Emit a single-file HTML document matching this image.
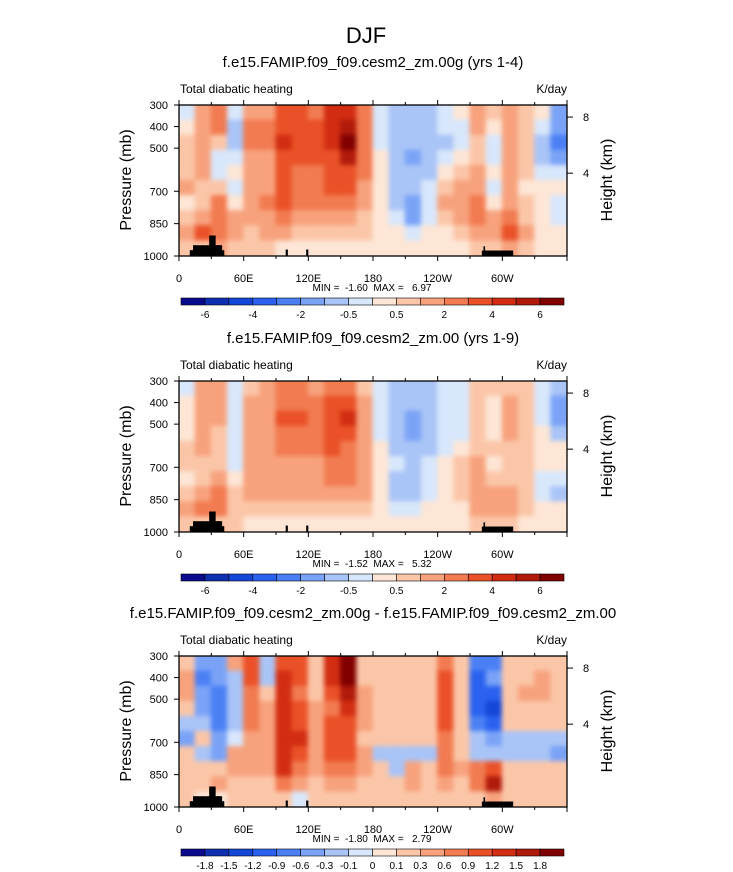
<!DOCTYPE html>
<html><head><meta charset="utf-8"><style>
body{margin:0;background:#fff;}
svg{display:block;font-family:"Liberation Sans",Arial,sans-serif;}
.bl{filter:blur(2.5px);}
</style></head><body>
<svg id="fig" width="733" height="872">
<text x="366" y="43" font-size="22" text-anchor="middle">DJF</text>
</svg>
<script>
const lonEdges=[0,15,30,45,60,75,90,105,120,135,150,165,180,195,210,225,240,255,270,285,300,315,330,345,360];
const presEdges=[300,370,440,510,580,650,720,790,860,930,1000];
const levelsA=[-6,-5,-4,-3,-2,-1,-0.5,0,0.5,1,2,3,4,5,6];
const labelsA=["-6","-4","-2","-0.5","0.5","2","4","6"];
const levelsB=[-1.8,-1.5,-1.2,-0.9,-0.6,-0.3,-0.1,0,0.1,0.3,0.6,0.9,1.2,1.5,1.8];
const labelsB=["-1.8","-1.5","-1.2","-0.9","-0.6","-0.3","-0.1","0","0.1","0.3","0.6","0.9","1.2","1.5","1.8"];
const xTickLabels=["0","60E","120E","180","120W","60W"];
const yTickLabels=[300,400,500,700,850,1000];
const heightTicks=[8,4];
const heightTickPres=[356,616];
const data1=[
[-0.3,0.3,0.6,0.8,0.8,1.5,0.3,0.8,1.5,0.8],
[1.5,1.5,1.2,1.2,1.5,0.8,0.8,1.5,3,0.8],
[2,2,0.6,-0.5,-0.5,0.8,2,2,2,1],
[-0.3,-0.7,-0.7,-0.5,0.3,-0.5,0.3,1,1,0.6],
[1.5,2,2,1.8,1.5,1.5,1.5,1,0.8,0.6],
[1.5,2,2,1.5,1.5,1.5,2,1.5,1,0.6],
[3,3.5,4.5,3.5,3,3,3,2,1,0.4],
[3,3.2,3.5,3,2.5,2.5,2.5,1.5,0.8,0.4],
[2.5,3,3,3,2.5,2.5,2.2,1.5,0.8,0.4],
[4,4.5,4.5,3.5,3,3,2.5,1.5,0.8,0.4],
[4.5,5,6.5,5,3.5,3,2.5,1.2,0.6,0.4],
[2.5,2.5,2.5,2.5,2,1.5,1.2,0.6,0.5,0.3],
[-0.3,-0.5,-0.3,0.3,0.3,0.3,0.3,0.3,0.3,0.2],
[-0.8,-0.8,-0.7,-0.8,-1,-0.8,-0.8,-0.5,0.2,0.2],
[-0.8,-1,-1,-1.3,-1,-0.8,-1.2,-1.5,-0.3,0.2],
[-0.6,-0.6,-0.8,-0.8,-0.6,-0.5,-0.5,-0.3,0.3,0.2],
[-0.3,-0.3,-0.6,-0.3,0.3,0.6,1,0.6,0.3,0.2],
[0.3,-0.3,-0.3,0.3,0.8,1.2,1.5,1,0.5,0.3],
[1.5,1,0.8,0.8,1,1.5,2,2,1,0.5],
[0.5,0.3,-0.3,-0.3,0.3,-0.3,0.3,1,1.5,0.6],
[1.2,1.5,1.5,1.5,1.2,1,1.2,2,3,1.2],
[0.6,0.8,0.8,0.6,0.5,0.3,0.5,0.8,1,0.5],
[0.3,-0.3,-0.6,-0.6,-0.3,0.3,0.3,0.3,0.3,0.3],
[-1.2,-2,-2.2,-1.2,-0.3,0.3,-0.3,-0.5,0.3,0.3]];
const data2=[
[-0.3,0.3,0.3,0.3,0.5,0.8,0.3,0.8,1.5,0.5],
[1,1.2,1.2,1.2,1,0.6,0.6,1.2,2.5,0.8],
[1.5,1.5,1.5,0.6,0.6,0.8,1.5,2,2,0.8],
[-0.4,-0.5,-0.5,-0.5,-0.3,-0.5,0.3,0.6,0.6,0.5],
[0.6,1,1.2,1.2,1.2,1.2,1.2,1,0.6,0.4],
[1.2,1.2,1.5,1.5,1.5,1.5,1.5,1.2,0.6,0.4],
[2,2.5,3,2.5,2,1.5,1.5,1,0.6,0.3],
[2.5,2.5,3,2.5,2,1.5,1.2,1,0.6,0.3],
[1.5,2,2.5,2.2,2,1.5,1.5,1,0.6,0.3],
[2.5,3,3.5,3.5,3,2,2,1.5,0.6,0.3],
[2.5,3.5,4.5,3.5,2.5,2,2,1.5,0.6,0.3],
[0.8,1.5,1.5,1.5,1.5,1.5,1.5,1,0.5,0.3],
[-0.5,-0.3,-0.3,-0.3,0.3,0.3,0.3,0.3,0.3,0.3],
[-0.8,-0.8,-0.8,-0.8,-0.6,-0.5,-0.8,-1,-0.3,0.2],
[-1,-1,-1.2,-1.2,-1,-0.8,-0.6,-0.8,-0.3,0.2],
[-0.8,-0.8,-0.8,-0.8,-0.6,-0.3,-0.3,-0.3,0.3,0.2],
[-0.5,-0.5,-0.5,-0.3,-0.3,0.3,0.3,0.3,0.3,0.2],
[-0.3,-0.3,-0.3,-0.3,0.3,0.6,0.8,0.6,0.3,0.3],
[0.8,0.8,0.8,0.6,0.8,1,1.2,1.5,1,0.5],
[0.5,0.3,0.3,0.3,0.5,0.3,0.6,1,1.2,0.5],
[0.6,1,1,1,0.8,0.8,0.8,1,1.5,0.8],
[0.5,0.6,0.5,0.5,0.5,0.5,0.5,0.5,0.6,0.4],
[-0.3,-0.3,-0.3,0.3,0.3,0.3,-0.3,-0.3,0.3,0.3],
[-0.8,-1.2,-1.2,-0.6,0.3,0.3,-0.3,-0.6,0.3,0.3]];
const data3=[
[0.2,0.3,0.4,0.2,-0.2,-0.4,0.2,0.2,0.2,0.1],
[-0.6,-0.8,-0.5,-0.4,-0.3,0.1,-0.2,0.2,0.2,0.05],
[-0.6,-0.6,-0.7,-0.8,-0.8,-0.6,-0.4,0.2,0.3,0.05],
[0.3,-0.2,-0.3,-0.3,-0.2,-0.1,0.3,0.3,0.2,0.1],
[1,0.9,0.8,0.6,0.6,0.4,0.3,0.3,0.2,0.1],
[-0.3,-0.3,0.2,0.3,0.3,0.3,0.3,0.3,0.2,0.1],
[1,1.2,1.2,1.2,1.2,1.4,1.4,1.2,0.6,0.1],
[1,0.9,0.8,0.9,1,1.2,1,0.8,0.4,-0.05],
[0.2,0.2,0.2,0.3,0.3,0.3,0.3,0.3,0.2,0.1],
[1.2,1.2,0.9,0.6,0.9,1,1,0.8,0.3,0.1],
[1.8,1.8,1.5,1.2,1,1,1,0.8,0.3,0.1],
[0.2,0.2,0.3,0.3,0.3,0.2,0.3,0.3,0.2,0.1],
[0.2,0.2,0.2,0.2,0.2,0.2,-0.2,0.1,0.2,0.1],
[0.2,0.2,0.2,0.2,0.2,0.15,-0.2,-0.2,0.1,0.1],
[0.2,0.2,0.2,0.2,0.2,0.15,-0.2,0.3,0.3,0.1],
[0.2,0.2,0.2,0.2,0.2,0.15,-0.2,0.1,0.2,0.1],
[0.6,0.9,1,1,0.9,0.8,0.8,0.6,0.3,0.1],
[0.2,0.2,0.2,0.2,0.2,0.2,0.2,0.3,0.2,0.1],
[-0.8,-1.2,-1.2,-1,-0.8,-0.3,-0.2,0.6,0.6,0.1],
[-0.9,-0.6,-1.2,-1.5,-1.2,-0.6,-0.2,1,1.5,0.3],
[0.2,0.2,0.2,0.2,0.1,-0.2,-0.2,0.2,0.2,0.1],
[0.2,0.2,0.3,0.2,0.2,-0.2,-0.3,0.2,0.2,0.1],
[0.2,0.3,0.4,0.2,0.2,-0.2,-0.3,0.2,0.2,0.1],
[0.2,0.2,0.2,0.2,0.2,-0.3,-0.4,0.2,0.2,0.1]];
const terrainLon0=[10,13,25,28,35,99,118,281,282.5,284];
const terrainLon1=[42,25,38,34,40,101,120,310,284,310];
const terrainTop=[973,950,950,905,950,970,970,975,955,975];
const colors=["#0a0a8c","#0d2fb0","#1446d8","#2a62ef","#4b80f5","#7aa3f7","#a9c4f7","#d8e7fb","#fde6d6","#fbc6a8","#f7a27d","#f27b51","#ea5128","#d22d12","#b01a0a","#800000"];

const NS="http://www.w3.org/2000/svg";
const svg=document.getElementById('fig');
const X0=179,X1=567;
function mk(tag,attrs,parent){const e=document.createElementNS(NS,tag);for(const k in attrs)e.setAttribute(k,attrs[k]);(parent||svg).appendChild(e);return e;}
function colorFor(v,levels){let i=0;while(i<levels.length&&v>=levels[i])i++;return colors[i];}

function panel(idx,top,data,levels,cbLabels,title,minmax){
  const Y0=top,Y1=top+151;
  const xs=l=>X0+(l/360)*(X1-X0);
  const ys=p=>Y0+(p-300)/700*(Y1-Y0);
  const g=mk('g',{});
  
  
  const cid='clip'+idx;
  const cp=mk('clipPath',{id:cid},g);
  mk('rect',{x:X0,y:Y0,width:X1-X0,height:Y1-Y0},cp);
  const fg=mk('g',{'clip-path':'url(#'+cid+')'},g);
  const inner=mk('g',{'class':'bl'},fg);
  data.forEach((col,i)=>{col.forEach((v,j)=>{
    const x0=i===0?xs(lonEdges[i])-8:xs(lonEdges[i]);
    const x1=i===data.length-1?xs(lonEdges[i+1])+8:xs(lonEdges[i+1]);
    const y0=j===0?ys(presEdges[j])-8:ys(presEdges[j]);
    const y1=j===col.length-1?ys(presEdges[j+1])+8:ys(presEdges[j+1]);
    const r=mk('rect',{x:x0-0.5,y:y0-0.5,width:x1-x0+1,height:y1-y0+1,fill:colorFor(v,levels)},inner);
    
    
  });});
  terrainLon0.forEach((l0,k)=>{
    const t=mk('rect',{x:xs(l0),y:ys(terrainTop[k]),width:xs(terrainLon1[k])-xs(l0),height:Y1-ys(terrainTop[k]),fill:'#000'},fg);
    
    
  });
  const fr=mk('rect',{x:X0,y:Y0,width:X1-X0,height:Y1-Y0,fill:'none',stroke:'#000','stroke-width':1.3},g);
  
  
  for(let l=0;l<=360;l+=30){
    const major=l%60===0;const len=major?5:3;
    mk('line',{x1:xs(l),x2:xs(l),y1:Y1,y2:Y1+len,stroke:'#000'},g);
    mk('line',{x1:xs(l),x2:xs(l),y1:Y0,y2:Y0-len,stroke:'#000'},g);
  }
  xTickLabels.forEach((s,k)=>{
    const t=mk('text',{x:xs(k*60),y:Y1+26,'font-size':11,'text-anchor':'middle'},g);t.textContent=s;
    
    
  });
  yTickLabels.forEach(p=>{
    mk('line',{x1:X0-5,x2:X0,y1:ys(p),y2:ys(p),stroke:'#000'},g);
    const t=mk('text',{x:X0-11,y:ys(p)+4,'font-size':11,'text-anchor':'end'},g);t.textContent=p;
    
    
  });
  heightTicks.forEach((h,k)=>{
    const y=ys(heightTickPres[k]);
    mk('line',{x1:X1,x2:X1+6,y1:y,y2:y,stroke:'#000'},g);
    const t=mk('text',{x:X1+16,y:y+4,'font-size':11},g);t.textContent=h;
    
    
  });
  const tt=mk('text',{x:373,y:top-38,'font-size':15,'text-anchor':'middle'},g);tt.textContent=title;
  
  
  const lt=mk('text',{x:180,y:top-12,'font-size':12},g);lt.textContent='Total diabatic heating';
  
  
  const ut=mk('text',{x:567,y:top-12,'font-size':12,'text-anchor':'end'},g);ut.textContent='K/day';
  
  
  const pl=mk('text',{x:0,y:0,'font-size':16,'text-anchor':'middle',transform:`translate(131,${top+75}) rotate(-90)`},g);pl.textContent='Pressure (mb)';
  
  
  const hl=mk('text',{x:0,y:0,'font-size':16,'text-anchor':'middle',transform:`translate(612,${top+75}) rotate(-90)`},g);hl.textContent='Height (km)';
  
  
  const mm=mk('text',{x:372,y:Y1+35,'font-size':10,'text-anchor':'middle',style:'white-space:pre'},g);mm.textContent=minmax;
  
  
  const cbg=mk('g',{},g);
  
  
  const cx0=181,cx1=564,cy=Y1+42,bw=(cx1-cx0)/16;
  colors.forEach((c,k)=>{mk('rect',{x:cx0+k*bw,y:cy,width:bw,height:7,fill:c,stroke:'#000','stroke-width':0.6},cbg);});
  const step=cbLabels.length===8?2:1;
  cbLabels.forEach((s,k)=>{
    const bi=step===2?1+2*k:1+k;
    const t=mk('text',{x:cx0+bi*bw,y:cy+20,'font-size':10,'text-anchor':'middle'},cbg);t.textContent=s;
    
    
  });
}
panel(1,105,data1,levelsA,labelsA,'f.e15.FAMIP.f09_f09.cesm2_zm.00g (yrs 1-4)','MIN =  -1.60  MAX =   6.97');
panel(2,381,data2,levelsA,labelsA,'f.e15.FAMIP.f09_f09.cesm2_zm.00 (yrs 1-9)','MIN =  -1.52  MAX =   5.32');
panel(3,656,data3,levelsB,labelsB,'f.e15.FAMIP.f09_f09.cesm2_zm.00g - f.e15.FAMIP.f09_f09.cesm2_zm.00','MIN =  -1.80  MAX =   2.79');
</script>
</body></html>
